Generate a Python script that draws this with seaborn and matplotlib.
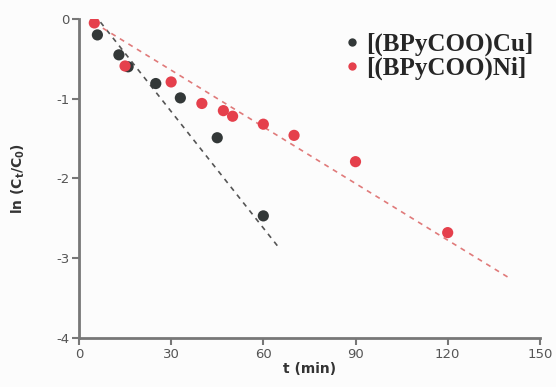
import matplotlib
matplotlib.use("Agg")
import matplotlib.pyplot as plt
import seaborn as sns
import pandas as pd
from matplotlib.lines import Line2D

# Data
cu_t = [6, 13, 16, 25, 33, 45, 60]
cu_ln = [-0.20, -0.45, -0.60, -0.81, -0.99, -1.49, -2.47]
ni_t = [5, 15, 30, 40, 47, 50, 60, 70, 90, 120]
ni_ln = [-0.05, -0.59, -0.79, -1.06, -1.15, -1.22, -1.32, -1.46, -1.79, -2.68]
cu_fit_t = [7, 65.5]
cu_fit_ln = [-0.04, -2.89]
ni_fit_t = [5, 140.5]
ni_fit_ln = [-0.05, -3.26]
labels = ["[(BPyCOO)Cu]", "[(BPyCOO)Ni]"]
x_ticks = [0, 30, 60, 90, 120, 150]
y_ticks = [0, -1, -2, -3, -4]

cu_color = "#333838"
ni_color = "#e5404c"

df = pd.DataFrame({
    "t": cu_t + ni_t,
    "ln": cu_ln + ni_ln,
    "series": [labels[0]] * len(cu_t) + [labels[1]] * len(ni_t),
})
fit = pd.DataFrame({
    "t": cu_fit_t + ni_fit_t,
    "ln": cu_fit_ln + ni_fit_ln,
    "series": [labels[0]] * 2 + [labels[1]] * 2,
})

sns.set_style("white")
plt.rcParams["axes.unicode_minus"] = False
fig = plt.figure(figsize=(5.56, 3.87), dpi=100)
fig.patch.set_facecolor("#fcfcfc")
ax = fig.add_axes([0.142, 0.127, 0.829, 0.824])
ax.set_facecolor("#fcfcfc")

palette = {labels[0]: cu_color, labels[1]: ni_color}
fit_palette = {labels[0]: "#555555", labels[1]: "#e07a7a"}

for lab in labels:
    sub = fit[fit.series == lab]
    sns.lineplot(data=sub, x="t", y="ln", ax=ax, color=fit_palette[lab],
                 linewidth=1.2, dashes=False, legend=False, zorder=1,
                 linestyle=(0, (3, 3)), sort=False)

sns.scatterplot(data=df, x="t", y="ln", hue="series", palette=palette,
                s=65, edgecolor="none", ax=ax, legend=False, zorder=3)

ax.set_xlim(0, 150)
ax.set_ylim(-4, 0)
ax.set_xticks(x_ticks)
ax.set_yticks(y_ticks)
ax.tick_params(axis="both", which="both", direction="out", length=5, width=1.5,
               colors="#777777", labelsize=9.5, labelcolor="#555555", pad=2,
               bottom=True, left=True)
for side in ["top", "right"]:
    ax.spines[side].set_visible(False)
for side in ["left", "bottom"]:
    ax.spines[side].set_color("#777777")
    ax.spines[side].set_linewidth(2)

ax.set_xlabel("t (min)", fontsize=10, fontweight="bold", color="#333333", labelpad=1)
ax.set_ylabel(r"ln (C$_\mathbf{t}$/C$_\mathbf{0}$)", fontsize=10, fontweight="bold",
              color="#333333", labelpad=21)

handles = [Line2D([0], [0], marker="o", linestyle="none", markersize=6,
                  markerfacecolor=c, markeredgecolor="none") for c in (cu_color, ni_color)]
leg = ax.legend(handles, labels, loc="upper right", bbox_to_anchor=(1.018, 1.005),
                frameon=False, handletextpad=0.15, labelspacing=0.05,
                borderaxespad=0.2, handlelength=0.8,
                prop={"family": "Liberation Serif", "weight": "bold", "size": 18})

fig.savefig("out.png", dpi=100, facecolor=fig.get_facecolor())
